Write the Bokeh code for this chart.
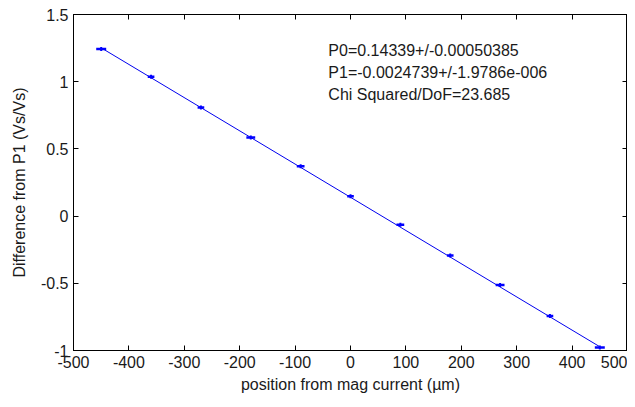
from bokeh.plotting import figure
from bokeh.models import LinearAxis, FixedTicker, Range1d, ColumnDataSource
from bokeh.core.properties import value
from bokeh.embed import file_html
from bokeh.resources import INLINE

# ---- data ----
x_pos = [-450, -360, -270, -180, -90, 0, 90, 180, 270, 360, 450]
y_diff = [1.243, 1.037, 0.808, 0.585, 0.371, 0.148, -0.064, -0.293, -0.513, -0.743, -0.977]
x_err = [9, 6, 6, 8, 7, 6, 7, 6, 8, 6, 9]
y_err = [0.015, 0.015, 0.015, 0.015, 0.015, 0.015, 0.015, 0.015, 0.015, 0.015, 0.015]

fit_x = [-450, 450]
fit_y = [1.252, -0.972]

x_ticks = [-500, -400, -300, -200, -100, 0, 100, 200, 300, 400, 500]
x_tick_labels = ["-500", "-400", "-300", "-200", "-100", "0", "100", "200", "300", "400", "500"]
y_ticks = [-1, -0.5, 0, 0.5, 1, 1.5]
y_tick_labels = ["-1", "-0.5", "0", "0.5", "1", "1.5"]

annot_lines = ["P0=0.14339+/-0.00050385",
               "P1=-0.0024739+/-1.9786e-006",
               "Chi Squared/DoF=23.685"]
annot_y = [1.235, 1.065, 0.905]
annot_x = [-40, -40, -40]

FONT = "Liberation Sans"
FS = "16px"
TXT = "#1a1a1a"

p = figure(width=627, height=399, x_range=Range1d(-500, 500), y_range=Range1d(-1, 1.5),
           output_backend="svg", toolbar_location=None,
           min_border_left=73, min_border_right=0, min_border_top=14, min_border_bottom=49)
p.grid.visible = False
p.outline_line_color = "black"
p.background_fill_color = "white"
p.border_fill_color = "white"

for ax, ticks, labels in ((p.xaxis[0], x_ticks, x_tick_labels), (p.yaxis[0], y_ticks, y_tick_labels)):
    ax.ticker = FixedTicker(ticks=ticks)
    ax.major_label_overrides = {t: l for t, l in zip(ticks, labels)}
    ax.minor_tick_line_color = None
    ax.major_tick_in = 5
    ax.major_tick_out = 0
    ax.major_label_standoff = 5
    ax.major_label_text_font = FONT
    ax.major_label_text_font_size = FS
    ax.major_label_text_color = TXT
    ax.axis_label_text_font = FONT
    ax.axis_label_text_font_size = FS
    ax.axis_label_text_font_style = "normal"
    ax.axis_label_text_color = TXT
    ax.axis_line_color = "black"
    ax.major_tick_line_color = "black"

p.xaxis.major_label_standoff = 5
p.xaxis.axis_label = "position from mag current (\u00b5m)"
p.xaxis.axis_label_standoff = 5
p.yaxis.axis_label = "Difference from P1 (Vs/Vs)"
p.yaxis.axis_label_standoff = 10

top = LinearAxis(ticker=FixedTicker(ticks=x_ticks),
                 major_label_overrides={t: "" for t in x_ticks},
                 major_tick_in=5, major_tick_out=0, minor_tick_line_color=None,
                 major_label_standoff=0, axis_label_standoff=0)
right = LinearAxis(ticker=FixedTicker(ticks=y_ticks),
                   major_label_overrides={t: "" for t in y_ticks},
                   major_tick_in=5, major_tick_out=0, minor_tick_line_color=None,
                   major_label_standoff=0, axis_label_standoff=0)
p.add_layout(top, "above")
p.add_layout(right, "right")

# fit line
p.line(fit_x, fit_y, line_color="#0000ee", line_width=1)

src = ColumnDataSource(dict(
    x=x_pos, y=y_diff,
    x0=[a - e for a, e in zip(x_pos, x_err)], x1=[a + e for a, e in zip(x_pos, x_err)],
    y0=[b - e for b, e in zip(y_diff, y_err)], y1=[b + e for b, e in zip(y_diff, y_err)],
))
p.segment(x0="x0", x1="x1", y0="y", y1="y", source=src, line_color="#0000ff", line_width=2.5)
p.segment(x0="x", x1="x", y0="y0", y1="y1", source=src, line_color="#0000ff", line_width=2)

p.text(x=annot_x, y=annot_y, text=annot_lines, text_font=value(FONT), text_font_size=FS,
       text_color=TXT, text_baseline="middle", text_align="left")

open("out.html", "w").write(file_html(p, INLINE))
